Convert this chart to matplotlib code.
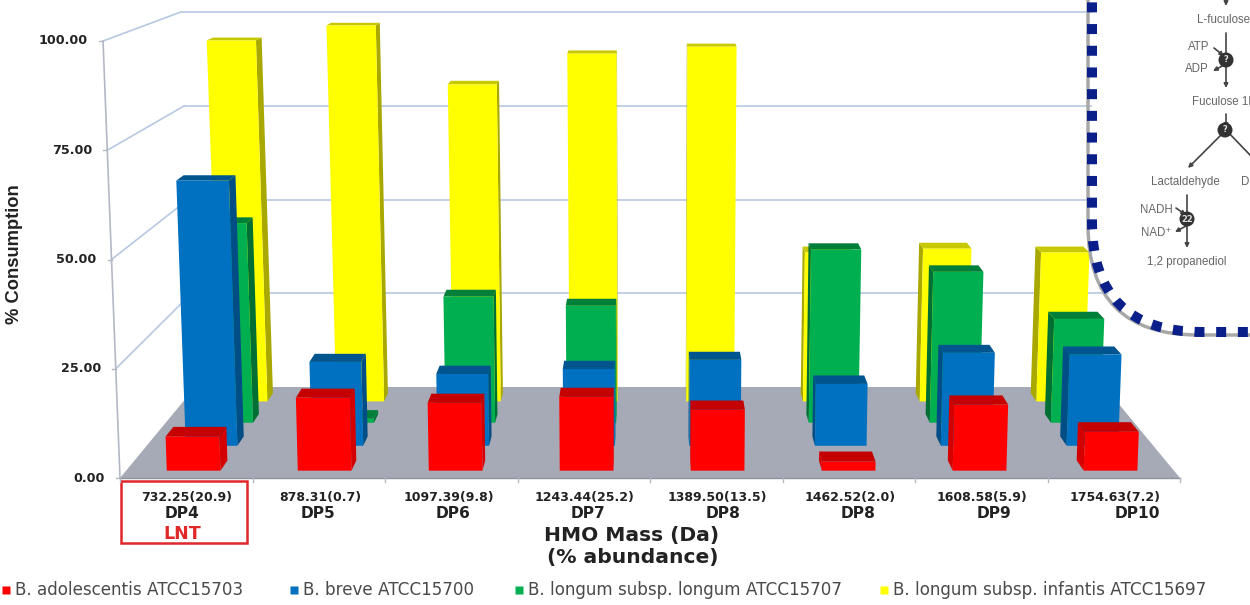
import matplotlib
matplotlib.use("Agg")
import matplotlib.pyplot as plt
from matplotlib.patches import Polygon, FancyBboxPatch, Rectangle, Circle

plt.rcParams['font.family'] = ['DejaVu Sans']

########################
mass_labels = ["732.25(20.9)", "878.31(0.7)", "1097.39(9.8)", "1243.44(25.2)",
               "1389.50(13.5)", "1462.52(2.0)", "1608.58(5.9)", "1754.63(7.2)"]
dp_labels = ["DP4", "DP5", "DP6", "DP7", "DP8", "DP8", "DP9", "DP10"]
y_ticks = [0, 25, 50, 75, 100]
series_names = ["B. adolescentis ATCC15703", "B. breve ATCC15700",
                "B. longum subsp. longum ATCC15707", "B. longum subsp. infantis ATCC15697"]
adolescentis = [7.9, 16.9, 15.7, 17.1, 14.1, 2.1, 15.3, 9.0]
breve = [63.9, 20.2, 17.3, 18.5, 20.7, 14.9, 22.4, 22.0]
longum = [50.0, 1.0, 31.6, 29.3, 0, 43.4, 37.8, 26.0]
infantis = [93.8, 97.7, 82.4, 90.4, 92.2, 38.7, 39.7, 38.7]
########################

face_colors = ["#FF0000", "#0070C0", "#00B050", "#FFFF00"]
top_colors = ["#C40000", "#00558F", "#007F3A", "#C8C800"]
side_colors = ["#D40000", "#004E85", "#006F33", "#A8A800"]
grid_color = "#B7C8E2"
axis_color = "#B4B8C4"
floor_color = "#A6AAB6"
text_color = "#222222"
inset_font = ['Liberation Sans', 'DejaVu Sans']


def proj(u, d, h):
    # u: 0-1 across the floor, d: 0-1 into the chart, h: value 0-100
    s = 1 / (1 + 0.1655 * d)
    x = 650 + (u - 0.5) * 1060 * s * (1 + 0.032 * h / 100)
    y = 478 - 91 * (1 - s) / 0.142 - 4.37 * h * s
    return x, y


fig = plt.figure(figsize=(12.5, 6.05), dpi=100)
ax = fig.add_axes([0, 0, 1, 1])
ax.set_xlim(0, 1250)
ax.set_ylim(605, 0)
ax.axis("off")

# floor and walls
ax.add_patch(Polygon([proj(0, 0, 0), proj(1, 0, 0), proj(1, 1, 0), proj(0, 1, 0)],
                     fc=floor_color, ec="none", zorder=2))
for t in y_ticks:
    if t > 0:
        ax.plot(*zip(proj(0, 1, t), proj(1, 1, t)), color=grid_color, lw=1.2, zorder=1)
        ax.plot(*zip(proj(0, 0, t), proj(0, 1, t)), color=grid_color, lw=1.2, zorder=1)
    fx, fy = proj(0, 0, t)
    ax.plot([fx - 4, fx], [fy, fy], color=axis_color, lw=1, zorder=1)
    ax.text(fx - 15, fy, f"{t:.2f}", ha="right", va="center", fontsize=9.2,
            fontweight="bold", color=text_color)
ax.plot(*zip(proj(0, 0, 0), proj(0, 0, 100)), color=axis_color, lw=1.2, zorder=1)
ax.plot(*zip(proj(0, 0, 0), proj(1, 0, 0)), color="#8F939E", lw=1, zorder=3)
for i in range(len(mass_labels) + 1):
    tx, ty = proj(i / len(mass_labels), 0, 0)
    ax.plot([tx, tx], [ty, ty + 4], color=axis_color, lw=1, zorder=3)

# bars, back row first
all_series = [adolescentis, breve, longum, infantis]
n_cat = len(mass_labels)
bar_w = 0.41 / n_cat
bar_d = 0.1
for j in [3, 2, 1, 0]:
    d0 = 0.07 + 0.25 * j
    d1 = d0 + bar_d
    for i, v in enumerate(all_series[j]):
        if v <= 0:
            continue
        uc = (i + 0.5) / n_cat + 0.002
        u0, u1 = uc - bar_w / 2, uc + bar_w / 2
        us = u1 if uc < 0.5 else u0
        z = 5 + (3 - j) * 2
        ax.add_patch(Polygon([proj(us, d0, 0), proj(us, d1, 0), proj(us, d1, v), proj(us, d0, v)],
                             fc=side_colors[j], ec="none", zorder=z))
        ax.add_patch(Polygon([proj(u0, d0, v), proj(u1, d0, v), proj(u1, d1, v), proj(u0, d1, v)],
                             fc=top_colors[j], ec="none", zorder=z))
        ax.add_patch(Polygon([proj(u0, d0, 0), proj(u1, d0, 0), proj(u1, d0, v), proj(u0, d0, v)],
                             fc=face_colors[j], ec="none", zorder=z + 1))

# category labels, they drift right of the ticks in the original
mass_x = [187, 320, 449, 584, 717, 850, 982, 1115]
dp_x = [182, 318, 453, 588, 723, 858, 994, 1137]
for m, dp, mx, dx in zip(mass_labels, dp_labels, mass_x, dp_x):
    ax.text(mx, 498, m, ha="center", va="center", fontsize=9, fontweight="bold", color=text_color)
    ax.text(dx, 514, dp, ha="center", va="center", fontsize=11.2, fontweight="bold", color=text_color)
ax.text(182, 534, "LNT", ha="center", va="center", fontsize=12.6, fontweight="bold", color="#E0282A")
ax.add_patch(Rectangle((120.5, 481), 126, 62, fc="none", ec="#E0282A", lw=1.8))

ax.text(632, 536, "HMO Mass (Da)", ha="center", va="center", fontsize=14.6, fontweight="bold", color=text_color)
ax.text(633, 558, "(% abundance)", ha="center", va="center", fontsize=14.6, fontweight="bold", color=text_color)
ax.text(15, 254, "% Consumption", rotation=90, ha="center", va="center", fontsize=13.2,
        fontweight="bold", color=text_color, family=inset_font)

# legend
legend_x = [6, 294, 519, 884]
for name, c, lx in zip(series_names, face_colors, legend_x):
    ax.plot([lx], [590], marker="s", ms=5.5, color=c, mec="none", zorder=4)
    ax.text(lx + 9, 590, name, ha="left", va="center", fontsize=12.1, color="#4A4A4A")

# inset panel with the pathway, cut by the image edge
ax.add_patch(FancyBboxPatch((1092 - 4, -150 + 3), 400, 482, boxstyle="round,pad=0,rounding_size=110",
                            fc="none", ec="#A8A8A8", lw=2.5, zorder=19))
ax.add_patch(FancyBboxPatch((1092, -150), 400, 482, boxstyle="round,pad=0,rounding_size=110",
                            fc="white", ec="#0A1F8A", lw=7.2, ls=(0, (1, 1.17)), zorder=20))

g = "#666666"
for s, x, y in [("L-fuculose", 1223, 20), ("ATP", 1199, 47), ("ADP", 1197, 69),
                ("Fuculose 1P", 1224, 102), ("Lactaldehyde", 1185, 182), ("DHAP", 1257, 182),
                ("NADH", 1156, 210), ("NAD⁺", 1156, 233), ("1,2 propanediol", 1187, 262)]:
    ax.text(x, y, s, ha="center", va="center", fontsize=8.3, color=g, zorder=21, family=inset_font)


def arrow(x0, y0, x1, y1):
    ax.annotate("", xy=(x1, y1), xytext=(x0, y0), zorder=21,
                arrowprops=dict(arrowstyle="-|>", color="#444444", lw=1.2, mutation_scale=6, shrinkA=0, shrinkB=0))


arrow(1226, -4, 1226, 6)
arrow(1226, 33, 1226, 88)
arrow(1226, 114, 1226, 128)
arrow(1226, 130, 1188, 168)
ax.plot([1226, 1250], [130, 155], color="#444444", lw=1.2, zorder=21)
arrow(1187, 195, 1187, 248)
arrow(1214, 48, 1224, 56)
arrow(1224, 65, 1213, 71)
arrow(1176, 208, 1186, 215)
arrow(1186, 226, 1175, 232)
for cx, cy, s in [(1226, 60, "?"), (1225, 130, "?"), (1187, 219, "22")]:
    ax.add_patch(Circle((cx, cy), 7.5, fc="#333333", ec="none", zorder=22))
    ax.text(cx, cy, s, ha="center", va="center", fontsize=6, fontweight="bold", color="#DDDDDD", zorder=23)

plt.savefig("out.png", dpi=100)
